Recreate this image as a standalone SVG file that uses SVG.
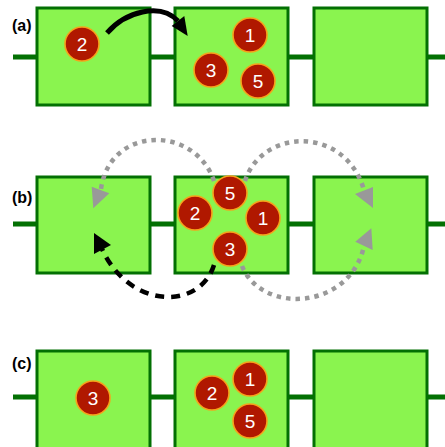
<svg xmlns="http://www.w3.org/2000/svg" width="445" height="447" viewBox="0 0 445 447">
<style>
.wire{stroke:#037003;stroke-width:5;fill:none}
.box{fill:#8af44f;stroke:#037003;stroke-width:3}
.ball{fill:#b01800;stroke:#f7a21b;stroke-width:1.6}
.num{fill:#fff;font-family:"Liberation Sans",Arial,sans-serif;font-size:19px;text-anchor:middle}
.lbl{fill:#000;font-family:"Liberation Sans",Arial,sans-serif;font-size:16px;font-weight:bold}
.gray{stroke:#999;stroke-width:4.5;stroke-dasharray:4.5 5;fill:none}
.blk{stroke:#000;stroke-width:4.5;stroke-dasharray:9 7;fill:none}
</style>
<g id="wires">
<line class="wire" x1="13" y1="57" x2="445" y2="57"/>
<line class="wire" x1="13" y1="224" x2="445" y2="224"/>
<line class="wire" x1="13" y1="397" x2="445" y2="397"/>
</g>
<g id="labels">
<text class="lbl" x="12" y="31">(a)</text>
<text class="lbl" x="12" y="203">(b)</text>
<text class="lbl" x="12" y="369">(c)</text>
</g>
<g id="boxA1"><rect class="box" x="37" y="8" width="113" height="97"/></g>
<g id="boxA2"><rect class="box" x="175" y="8" width="113" height="97"/></g>
<g id="boxA3"><rect class="box" x="314" y="8" width="113" height="97"/></g>
<g id="boxB1"><rect class="box" x="37" y="177" width="113" height="96"/></g>
<g id="boxB2"><rect class="box" x="175" y="177" width="113" height="96"/></g>
<g id="boxB3"><rect class="box" x="314" y="177" width="113" height="96"/></g>
<g id="boxC1"><rect class="box" x="37" y="351" width="113" height="98"/></g>
<g id="boxC2"><rect class="box" x="175" y="351" width="113" height="98"/></g>
<g id="boxC3"><rect class="box" x="314" y="351" width="113" height="98"/></g>
<g id="connectors">
<path d="M107,33 C125,12 160,2 178,21" stroke="#000" stroke-width="5" fill="none"/>
<polygon points="171.7,26 184.3,16 187.7,36" fill="#000"/>
<path class="gray" d="M214,181 C195,125 110,125 101,189"/>
<polygon points="91.7,186.7 109.3,193.3 93.3,208.3" fill="#999"/>
<path class="gray" d="M245,181 C262,128 345,125 364,190"/>
<polygon points="355,194 373,187 373,208" fill="#999"/>
<path class="gray" d="M242,266 C262,315 350,310 364,246"/>
<polygon points="355.3,241.7 372.7,250 371.3,228.3" fill="#999"/>
<path class="blk" d="M214,265 C200,310 130,310 102,249"/>
<polygon points="94,233 111,245 94,254" fill="#000"/>
</g>
<g id="a2"><circle class="ball" cx="82" cy="44" r="17"/><text class="num" x="82" y="50.8">2</text></g>
<g id="a3"><circle class="ball" cx="211" cy="70" r="17"/><text class="num" x="211" y="76.8">3</text></g>
<g id="a1"><circle class="ball" cx="250" cy="35" r="17"/><text class="num" x="250" y="41.8">1</text></g>
<g id="a5"><circle class="ball" cx="258" cy="81" r="17"/><text class="num" x="258" y="87.8">5</text></g>
<g id="b2"><circle class="ball" cx="195" cy="213" r="17"/><text class="num" x="195" y="219.8">2</text></g>
<g id="b5"><circle class="ball" cx="230" cy="193" r="17"/><text class="num" x="230" y="199.8">5</text></g>
<g id="b1"><circle class="ball" cx="263" cy="218" r="17"/><text class="num" x="263" y="224.8">1</text></g>
<g id="b3"><circle class="ball" cx="230" cy="249" r="17"/><text class="num" x="230" y="255.8">3</text></g>
<g id="c3"><circle class="ball" cx="93" cy="398" r="17"/><text class="num" x="93" y="404.8">3</text></g>
<g id="c2"><circle class="ball" cx="212" cy="393" r="17"/><text class="num" x="212" y="399.8">2</text></g>
<g id="c1"><circle class="ball" cx="250" cy="379" r="17"/><text class="num" x="250" y="385.8">1</text></g>
<g id="c5"><circle class="ball" cx="250" cy="421" r="17"/><text class="num" x="250" y="427.8">5</text></g>
</svg>
